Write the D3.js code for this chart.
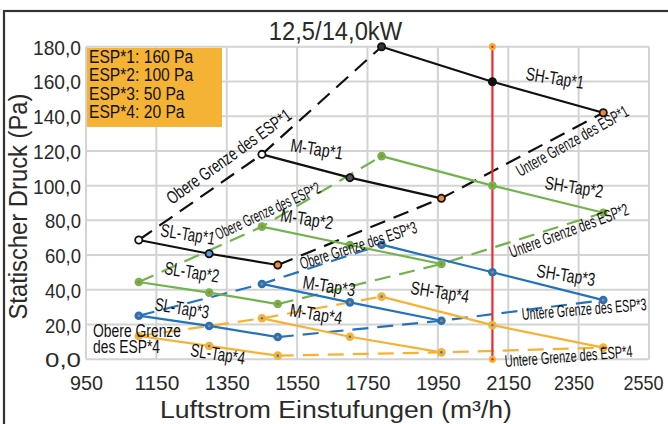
<!DOCTYPE html>
<html><head><meta charset="utf-8">
<script src="https://cdn.jsdelivr.net/npm/d3@7/dist/d3.min.js"></script>
<style>html,body{margin:0;padding:0;background:#fff;} svg{display:block;}</style>
</head><body><svg id="c" width="668" height="424"></svg>
<script>
// ---------- data ----------
const xTicks = [950,1150,1350,1550,1750,1950,2150,2350,2550];
const yTicks = [0,20,40,60,80,100,120,140,160,180];
const slFlow = [1100,1300,1495];
const mFlow  = [1450,1700,1960];
const shFlow = [1790,2105,2420];
const esp1SL = [68.7,60.8,54.3],  esp1M = [118.0,104.6,92.7], esp1SH = [180.0,159.8,142.0];
const esp2SL = [44.5,38.4,31.8],  esp2M = [76.4,65.8,54.9],   esp2SH = [117.0,100.0,84.4];
const esp3SL = [25.1,19.2,12.8],  esp3M = [43.4,32.8,22.2],   esp3SH = [66.0,50.1,34.1];
const esp4SL = [13.4,7.7,2.1],    esp4M = [23.6,13.0,4.0],    esp4SH = [36.1,19.7,6.7];
const ratedFlow = 2105;
const ratedRange = [0,180];
const legendLines = ["ESP*1: 160 Pa","ESP*2: 100 Pa","ESP*3: 50 Pa","ESP*4: 20 Pa"];
const titleText = "12,5/14,0kW";
const yTitle = "Statischer Druck (Pa)";
const xTitle = "Luftstrom Einstufungen (m³/h)";
// label anchors in data units [flow, pressure]
const tapLabels = [
  ["SH-Tap*1",2283,162.0],["SH-Tap*2",2337,99.2],["SH-Tap*3",2314,48.5],["SH-Tap*4",1956,38.8],
  ["M-Tap*1",1606,121.1],["M-Tap*2",1578,80.8],["M-Tap*3",1641,42.2],["M-Tap*4",1604,26.1],
  ["SL-Tap*1",1240,72.1],["SL-Tap*2",1251,50.3],["SL-Tap*3",1223,29.5],["SL-Tap*4",1325,3.1]
];
const limitLabels = [
  ["Obere Grenze des ESP*1",1366,113.9],["Obere Grenze des ESP*2",1473,82.5],["Obere Grenze des ESP*3",1729,62.4],
  ["Untere Grenze des ESP*1",2340,122.8],["Untere Grenze des ESP*2",2328,71.0],
  ["Untere Grenze des ESP*3",2367,25.5],["Untere Grenze des ESP*4",2323,-1.6]
];
const obere4Lines = [["Obere Grenze",970,13.1],["des ESP*4",970,3.9]];

// ---------- styles ----------
const COL = ["#111111","#72b34b","#2372bd","#f7b233"];
const RED = "#ee2a2e";
const INNER = [null,"#c0703a","#e07a3a","#3d7cc9"];
const BLACKFILL = [["#ffffff","#5a9bd4","#f0883a"],["#ffffff","#555555","#f0883a"],["#333333","#111111","#f0883a"]];
const limitStyle = [[149,-35.7,18],[114,-25,16.5],[122,-17.7,17],[126,-29.4,17],[126,-20.4,17],[125,-4.6,17],[128,-4.5,17]];
const tapLen = {SH:59,M:53,SL:55};
const xLabelShift = {2350:-5, 2550:-6};
const NARROW = "'Liberation Sans Narrow','Arial Narrow','Liberation Sans',sans-serif";
const SANS = "'Liberation Sans',Arial,sans-serif";

// ---------- chart ----------
const svg = d3.select("#c");
const x = d3.scaleLinear().domain([950,2550]).range([86,649]);
const y = d3.scaleLinear().domain([0,180]).range([359.3,46.7]);

svg.append("rect").attr("x",4).attr("y",11).attr("width",720).attr("height",480)
  .attr("fill","none").attr("stroke","#333").attr("stroke-width",2.2);

function txt(g, s, px, py, o) {
  const t = g.append("text").text(s)
    .attr("transform", `translate(${px},${py}) rotate(${o.rot||0}) scale(${o.sx||1},1)`)
    .attr("text-anchor", o.anchor||"middle")
    .attr("font-family", o.family||SANS)
    .attr("font-size", o.size)
    .attr("fill", o.fill||"#222");
  if (o.dy) t.attr("dy", o.dy);
  if (o.len) t.attr("textLength", o.len).attr("lengthAdjust","spacingAndGlyphs");
  return t;
}

// grid
const grid = svg.append("g").attr("stroke","#d3d3d3").attr("stroke-width",2);
xTicks.forEach(v => grid.append("line").attr("x1",x(v)).attr("x2",x(v)).attr("y1",y(0)).attr("y2",y(180)));
yTicks.forEach(v => grid.append("line").attr("x1",x(950)).attr("x2",x(2550)).attr("y1",y(v)).attr("y2",y(v)));

// axes via d3 (tick labels)
const fmt = d => d3.format(".1f")(d).replace(".",",");
const yAx = svg.append("g").attr("transform",`translate(${x(950)-5},0)`)
  .call(d3.axisLeft(y).tickValues(yTicks).tickFormat(fmt).tickSize(0).tickPadding(0));
yAx.select(".domain").remove();
yAx.selectAll("text").attr("font-family",SANS).attr("font-size",21).attr("fill","#2a2a2a")
  .attr("dy","0.36em").attr("x",0)
  .attr("textLength",d=>d>=100?48:36).attr("lengthAdjust","spacingAndGlyphs");

const xAx = svg.append("g").attr("transform",`translate(0,${y(0)+16})`)
  .call(d3.axisBottom(x).tickValues(xTicks).tickFormat(d=>String(d)).tickSize(0).tickPadding(0));
xAx.select(".domain").remove();
xAx.selectAll("text").attr("font-family",SANS).attr("font-size",21).attr("fill","#2a2a2a")
  .attr("dy","0.71em").attr("y",0).attr("x",d=>xLabelShift[d]||0)
  .attr("textLength",d=>d>=2350?40:(d>=1000?45:33)).attr("lengthAdjust","spacingAndGlyphs");

// limit lines (dashed)
const series = [[esp1SL,esp1M,esp1SH],[esp2SL,esp2M,esp2SH],[esp3SL,esp3M,esp3SH],[esp4SL,esp4M,esp4SH]];
const flows = [slFlow,mFlow,shFlow];
const line = d3.line().x(d=>x(d[0])).y(d=>y(d[1]));
const gl = svg.append("g");
series.forEach((taps,i) => {
  const upper = taps.map((p,k)=>[flows[k][0],p[0]]);
  const lower = taps.map((p,k)=>[flows[k][2],p[2]]);
  [upper,lower].forEach(pts => gl.append("path").attr("d",line(pts)).attr("fill","none")
    .attr("stroke",COL[i]).attr("stroke-width",2.2).attr("stroke-dasharray","16,9"));
});
// tap lines
series.forEach((taps,i) => {
  taps.forEach((p,k) => {
    const pts = p.map((v,j)=>[flows[k][j],v]);
    gl.append("path").attr("d",line(pts)).attr("fill","none").attr("stroke",COL[i]).attr("stroke-width",2.2);
  });
});
// red rated line
gl.append("line").attr("x1",x(ratedFlow)).attr("x2",x(ratedFlow)).attr("y1",y(ratedRange[0])).attr("y2",y(ratedRange[1]))
  .attr("stroke",RED).attr("stroke-width",2.2);
// markers
series.forEach((taps,i) => {
  taps.forEach((p,k) => {
    p.forEach((v,j) => {
      const cx = x(flows[k][j]), cy = y(v);
      if (i===0) {
        gl.append("circle").attr("cx",cx).attr("cy",cy).attr("r",3.6).attr("fill",BLACKFILL[k][j])
          .attr("stroke",COL[0]).attr("stroke-width",1.8);
      } else {
        gl.append("circle").attr("cx",cx).attr("cy",cy).attr("r",4.3).attr("fill",COL[i]);
        gl.append("circle").attr("cx",cx).attr("cy",cy).attr("r",1.3).attr("fill",INNER[i]);
      }
    });
  });
});
ratedRange.forEach(v => {
  gl.append("circle").attr("cx",x(ratedFlow)).attr("cy",y(v)).attr("r",3.6).attr("fill",COL[3]);
  gl.append("circle").attr("cx",x(ratedFlow)).attr("cy",y(v)).attr("r",1.3).attr("fill",RED);
});

// legend box
const lg = svg.append("g");
lg.append("rect").attr("x",87).attr("y",48).attr("width",135).attr("height",79).attr("fill","#f4b334");
legendLines.forEach((s,i) => txt(lg, s, 89, 63 + i*18.45, {anchor:"start", size:18.5, sx:0.845, fill:"#111"}));

// annotations
const ga = svg.append("g");
tapLabels.forEach(([s,fx,fp]) => {
  const key = s.split("-")[0];
  txt(ga, s, x(fx), y(fp), {size:18.5, rot:9, family:NARROW, len:tapLen[key], dy:"0.35em", fill:"#111"});
});
limitLabels.forEach(([s,fx,fp],i) => {
  const [len,rot,size] = limitStyle[i];
  txt(ga, s, x(fx), y(fp), {size:size, rot:rot, family:NARROW, len:len, fill:"#111"});
});
obere4Lines.forEach(([s,fx,fp],i) => {
  txt(ga, s, x(fx), y(fp), {anchor:"start", size:18, family:NARROW, len:i===0?88:67, fill:"#111"});
});

// titles
txt(svg, titleText, 335.5, 39.5, {size:25, sx:0.95, fill:"#2a2a2a"});
txt(svg, yTitle, 26.5, 206.5, {size:25, rot:-90, len:226, fill:"#2a2a2a"});
txt(svg, xTitle, 336, 417.5, {size:23.5, len:352, fill:"#2a2a2a"});
</script></body></html>
